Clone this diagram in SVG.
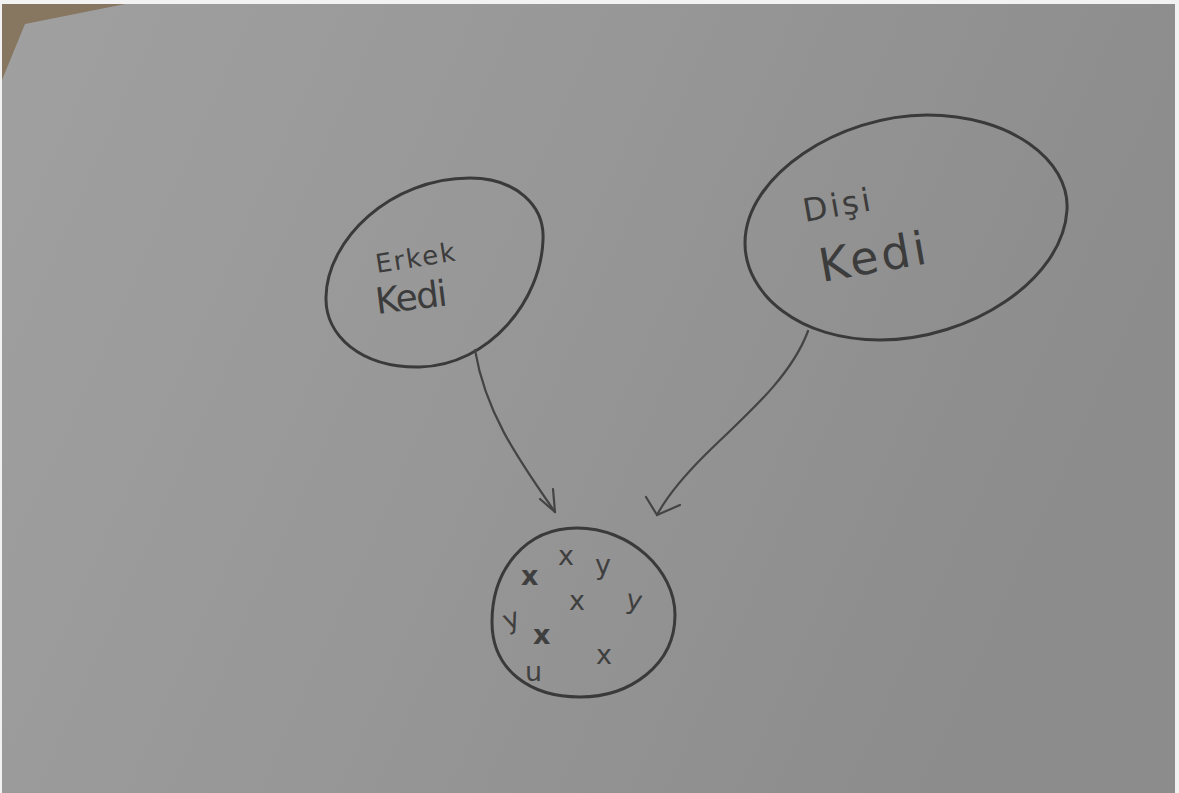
<svg xmlns="http://www.w3.org/2000/svg" width="1179" height="793" viewBox="0 0 1179 793">
<defs>
<linearGradient id="paper" x1="0" y1="0" x2="1" y2="0.3">
<stop offset="0" stop-color="#a0a0a0"/>
<stop offset="0.5" stop-color="#979797"/>
<stop offset="1" stop-color="#8c8c8c"/>
</linearGradient>
<style>
.ink{fill:none;stroke:#3a3a3a;stroke-width:3;stroke-linecap:round;stroke-linejoin:round}
.pen{fill:none;stroke:#444;stroke-width:2.2;stroke-linecap:round;stroke-linejoin:round}
.hand{font-family:"DejaVu Sans","Liberation Sans",sans-serif;fill:#3c3c3c;font-weight:normal}
.sm{font-family:"DejaVu Sans","Liberation Sans",sans-serif;fill:#3f3f3f;font-size:27px}
</style>
</defs>
<rect x="0" y="0" width="1179" height="793" fill="#f2f2f2"/>
<rect x="2" y="4" width="1173" height="789" fill="url(#paper)"/>
<polygon points="2,4 125,4 25,24 2,80" fill="#877761"/>

<g id="erkek-kedi">
<path class="ink" d="M 470 178 C 515 178, 545 205, 543 240 C 541 300, 490 365, 420 367 C 360 368, 325 335, 326 297 C 327 240, 390 178, 470 178 Z"/>
<text class="hand" x="377" y="273" font-size="26" textLength="80" transform="rotate(-9 377 273)">Erkek</text>
<text class="hand" x="377" y="314" font-size="36" textLength="72" transform="rotate(-7 377 314)">Kedi</text>
</g>

<g id="disi-kedi">
<path class="ink" d="M 927 115 C 1010 115, 1070 160, 1067 210 C 1063 280, 970 340, 880 340 C 800 340, 745 295, 745 243 C 745 175, 840 115, 927 115 Z"/>
<text class="hand" x="805" y="222" font-size="32" textLength="68" transform="rotate(-10 805 222)">Dişi</text>
<text class="hand" x="822" y="282" font-size="46" textLength="108" transform="rotate(-10 822 282)">Kedi</text>
</g>

<g id="yavru">
<path class="ink" d="M 577 528 C 630 528, 675 570, 675 615 C 675 665, 630 697, 580 697 C 530 697, 492 670, 492 622 C 492 570, 525 528, 577 528 Z"/>
<text class="sm" x="558" y="565">x</text>
<text class="sm" x="595" y="574">y</text>
<text class="sm" x="521" y="585" font-weight="bold">x</text>
<text class="sm" x="569" y="610">x</text>
<text class="sm" x="626" y="610" font-size="30" transform="rotate(10 638 603)">y</text>
<text class="sm" x="503" y="627" transform="rotate(-20 514 618)">y</text>
<text class="sm" x="533" y="644" font-size="30" font-weight="bold">x</text>
<text class="sm" x="596" y="664">x</text>
<text class="sm" x="525" y="681">u</text>
</g>

<g id="connectors">
<path class="pen" d="M 475 350 C 485 410, 515 455, 555 512"/>
<path class="pen" d="M 540 499 L 555 512 L 553 489"/>
<path class="pen" d="M 808 331 C 790 380, 740 420, 705 455 C 680 480, 665 500, 657 515"/>
<path class="pen" d="M 646 497 L 657 515 L 680 505"/>
</g>
</svg>
